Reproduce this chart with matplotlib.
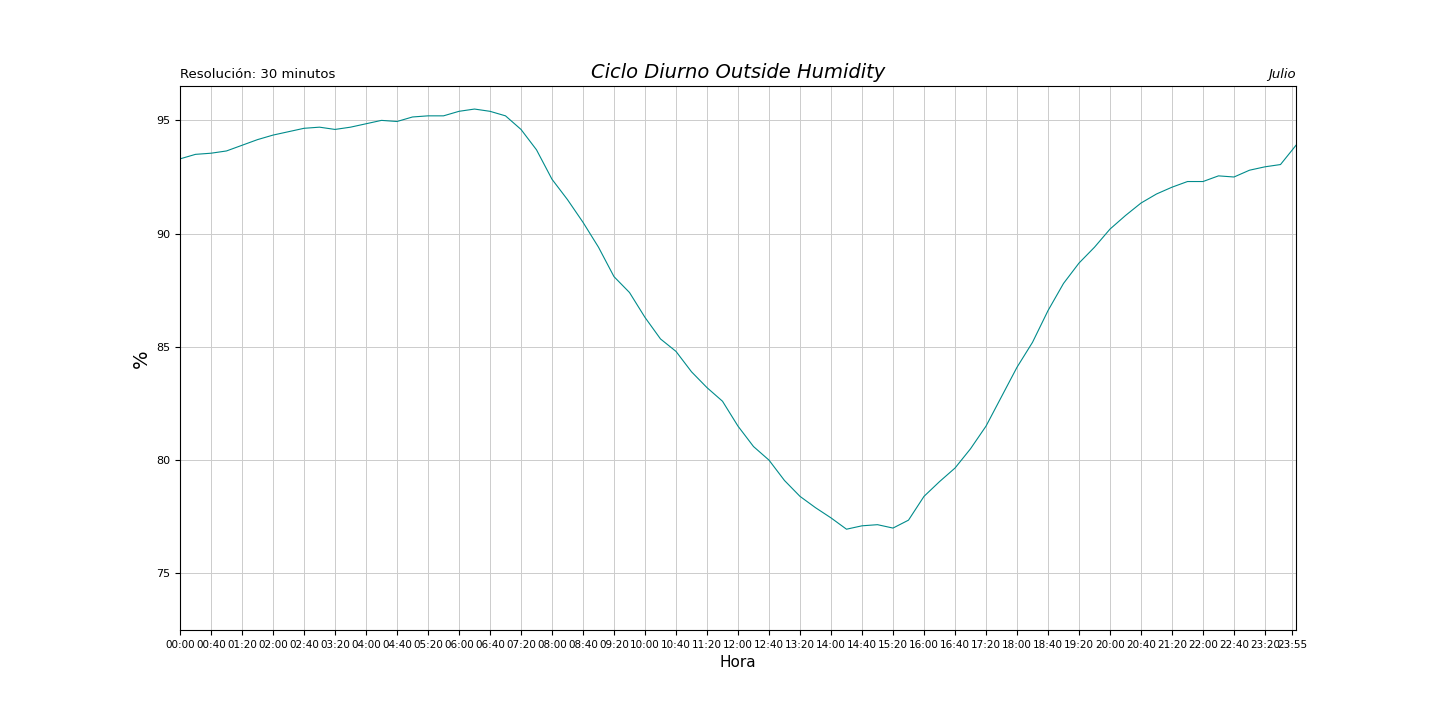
import matplotlib
matplotlib.use("Agg")
import matplotlib.pyplot as plt

# humidity every 20 minutes
humidity = [
    93.3, 93.5, 93.55, 93.65, 93.9, 94.15, 94.35, 94.5, 94.65, 94.7,
    94.6, 94.7, 94.85, 95.0, 94.95, 95.15, 95.2, 95.2, 95.4, 95.5,
    95.4, 95.2, 94.6, 93.7, 92.4, 91.5, 90.5, 89.4, 88.1, 87.4,
    86.3, 85.35, 84.8, 83.9, 83.2, 82.6, 81.5, 80.6, 80.0, 79.1,
    78.4, 77.9, 77.45, 76.95, 77.1, 77.15, 77.0, 77.35, 78.4, 79.05,
    79.65, 80.5, 81.5, 82.8, 84.1, 85.2, 86.6, 87.8, 88.7, 89.4,
    90.2, 90.8, 91.35, 91.75, 92.05, 92.3, 92.3, 92.55, 92.5, 92.8,
    92.95, 93.05, 93.9,
]
minutes = [20 * i for i in range(len(humidity))]

tick_minutes = list(range(0, 1401, 40)) + [1435]
tick_labels = ["%02d:%02d" % (m // 60, m % 60) for m in tick_minutes]

fig, ax = plt.subplots(figsize=(14.4, 7.2), dpi=100)
fig.subplots_adjust(left=0.125, right=0.9, bottom=0.125, top=0.88)
ax.plot(minutes, humidity, color="darkcyan", linewidth=0.8)

ax.set_xlim(0, minutes[-1])
ax.set_ylim(72.5, 96.5)
ax.set_xticks(tick_minutes)
ax.set_xticklabels(tick_labels, fontsize=7.5)
ax.set_yticks([75, 80, 85, 90, 95])
ax.tick_params(axis="y", labelsize=8)
ax.grid(True, color="#cccccc", linewidth=0.7)

ax.set_title("Ciclo Diurno Outside Humidity", fontsize=14, style="italic")
ax.set_title("Resolución: 30 minutos", loc="left", fontsize=9.5)
ax.set_title("Julio", loc="right", fontsize=9.5, style="italic")
ax.set_ylabel("%", fontsize=14)
ax.set_xlabel("Hora", fontsize=11)

fig.savefig("out.png")
